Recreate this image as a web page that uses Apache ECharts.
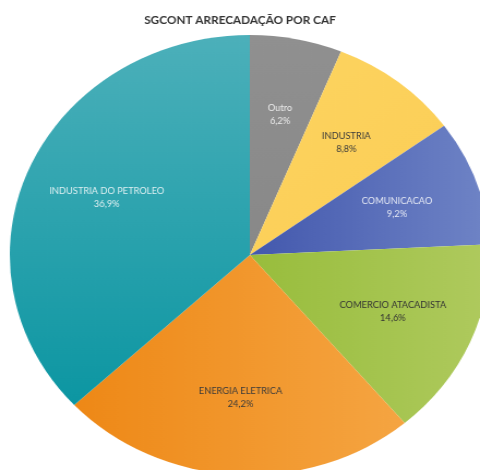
<!DOCTYPE html>
<html><head><meta charset="utf-8">
<script src="https://cdn.jsdelivr.net/npm/echarts@6/dist/echarts.min.js"></script>
<style>
html,body{margin:0;padding:0;background:#fff;overflow:hidden;}
#c{width:440px;height:470px;transform:scaleX(1.0909);transform-origin:0 0;}
</style></head><body><div id="c"></div>
<script>
const categories = ['Outro','INDUSTRIA','COMUNICACAO','COMERCIO ATACADISTA','ENERGIA ELETRICA','INDUSTRIA DO PETROLEO'];
const values = [6.2, 8.8, 9.2, 14.6, 24.2, 36.9];
const titleText = 'SGCONT ARRECADAÇÃO POR CAF';

const grad = (a,b,x2,y2)=>new echarts.graphic.LinearGradient(0,0,x2,y2,[{offset:0,color:a},{offset:1,color:b}]);
const fills = [
  grad('#909090','#888888',0,1),
  grad('#fdd460','#fbcd55',1,1),
  grad('#4358ad','#6f84c6',1,0),
  grad('#98bd3c','#afca5e',1,0),
  grad('#ee8816','#f5a542',1,0),
  grad('#4cb0ba','#0c96a2',0,1)
];
const labelColors = ['#ececec','#3a3a3a','#e4e8f4','#333333','#3a3a3a','#dff0f2'];

const chart = echarts.init(document.getElementById('c'), null, {renderer:'canvas'});
const fmt = v => v.toFixed(1).replace('.', ',') + '%';
chart.setOption({
  animation:false,
  title:{text:titleText,left:'center',top:10,
    textStyle:{fontFamily:'Lato',fontWeight:'bold',fontSize:10.8,color:'#333'}},
  series:[
    {type:'pie',center:[229,255],radius:[0,220],startAngle:90,clockwise:true,
     silent:true,label:{show:false},labelLine:{show:false},
     data:categories.map((n,i)=>({name:n,value:values[i],itemStyle:{color:fills[i]}}))},
    {type:'pie',center:[229,255],radius:[60,220],startAngle:90,clockwise:true,
     silent:true,itemStyle:{color:'rgba(0,0,0,0)'},labelLine:{show:false},
     label:{show:true,position:'inside',fontFamily:'Lato',fontSize:8.5,lineHeight:13,
       formatter:p=>p.name+'\n'+fmt(p.value)},
     data:categories.map((n,i)=>({name:n,value:values[i],label:{color:labelColors[i]}}))}
  ]
});
</script></body></html>
